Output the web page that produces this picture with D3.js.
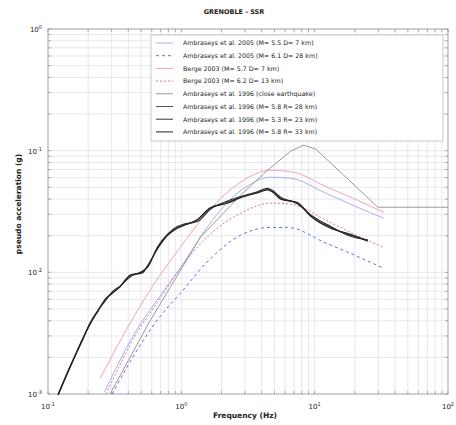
<!DOCTYPE html>
<html>
<head>
<meta charset="utf-8">
<script src="https://cdn.jsdelivr.net/npm/d3@7"></script>
<style>
  body { margin: 0; background: #fff; }
  text { font-family: "DejaVu Sans", Arial, sans-serif; fill: #222; }
</style>
</head>
<body>
<svg id="chart" width="456" height="425"></svg>
<script>
// values (Hz, g)
const title = 'GRENOBLE - SSR';

const amb05aF = [0.264, 0.45, 0.7, 0.98, 1.5, 2.22, 3.2, 4.67, 6.6, 12, 20, 33];
const amb05aA = [0.00103, 0.0032, 0.0065, 0.0108, 0.022, 0.0377, 0.052, 0.0605, 0.0594, 0.045, 0.035, 0.0278];

const amb05bF = [0.303, 0.5, 0.7, 0.98, 1.6, 2.78, 4.67, 6.27, 12, 20, 33];
const amb05bA = [0.001, 0.0026, 0.0044, 0.0067, 0.0125, 0.0202, 0.0234, 0.0234, 0.0175, 0.0138, 0.0108];

const ber03aF = [0.246, 0.4, 0.6, 0.98, 1.6, 2.78, 4.67, 6.95, 12, 20, 33];
const ber03aA = [0.00134, 0.0036, 0.0075, 0.016, 0.032, 0.055, 0.069, 0.0665, 0.051, 0.04, 0.0312];

const ber03bF = [0.273, 0.45, 0.7, 0.98, 1.6, 2.78, 4.67, 6.6, 12, 20, 33];
const ber03bA = [0.001, 0.003, 0.0062, 0.0108, 0.02, 0.0306, 0.037, 0.0364, 0.027, 0.0205, 0.016];

const codeF = [0.292, 0.585, 1.39, 2.78, 4.43, 6.6, 8.26, 10.2, 29.8, 100];
const codeA = [0.001, 0.00403, 0.0194, 0.043, 0.069, 0.099, 0.111, 0.103, 0.0343, 0.0343];

const recF = [0.119, 0.134, 0.154, 0.18, 0.207, 0.238, 0.268, 0.303, 0.347, 0.414, 0.509, 0.565, 0.66, 0.785, 0.933, 1.035, 1.32, 1.65, 2.22, 2.78, 3.72, 4.43, 4.83, 5.55, 7.45, 9.3, 13.2, 18.6, 25];
const rec1A = [0.00099, 0.00134, 0.00189, 0.00275, 0.0038, 0.00487, 0.0059, 0.0068, 0.00767, 0.0094, 0.01, 0.0114, 0.0158, 0.0202, 0.0234, 0.0244, 0.0268, 0.0336, 0.0377, 0.0414, 0.0455, 0.0482, 0.0464, 0.0406, 0.037, 0.0294, 0.0234, 0.0202, 0.0183];
const rec2A = [0.00099, 0.00135, 0.0019, 0.00272, 0.00385, 0.0049, 0.0058, 0.0069, 0.0077, 0.0092, 0.0102, 0.0112, 0.016, 0.0205, 0.0238, 0.0248, 0.0262, 0.033, 0.0385, 0.042, 0.046, 0.049, 0.047, 0.0415, 0.0365, 0.0298, 0.0238, 0.0198, 0.0185];
const rec3A = [0.00098, 0.00133, 0.00188, 0.00278, 0.00375, 0.00485, 0.006, 0.0067, 0.0076, 0.0095, 0.0099, 0.0116, 0.0155, 0.02, 0.023, 0.0242, 0.0272, 0.034, 0.037, 0.041, 0.045, 0.0475, 0.0458, 0.04, 0.0375, 0.029, 0.023, 0.0205, 0.018];

const series = [
  { name: 'Ambraseys et al. 2005 (M= 5.5 D= 7 km)', f: amb05aF, a: amb05aA, color: '#a9b0f0', dash: null, w: 1 },
  { name: 'Ambraseys et al. 2005 (M= 6.1 D= 28 km)', f: amb05bF, a: amb05bA, color: '#5c6fe6', dash: '3,3', w: 1 },
  { name: 'Berge 2003 (M= 5.7 D= 7 km)', f: ber03aF, a: ber03aA, color: '#f2a3b3', dash: null, w: 1 },
  { name: 'Berge 2003 (M= 6.2 D= 13 km)', f: ber03bF, a: ber03bA, color: '#e8768c', dash: '2,2', w: 1 },
  { name: 'Ambraseys et al. 1996 (close earthquake)', f: codeF, a: codeA, color: '#9a9a9a', dash: null, w: 1 },
  { name: 'Ambraseys et al. 1996 (M= 5.8 R= 28 km)', f: recF, a: rec1A, color: '#555', dash: null, w: 1.2 },
  { name: 'Ambraseys et al. 1996 (M= 5.3 R= 23 km)', f: recF, a: rec2A, color: '#333', dash: null, w: 1.2 },
  { name: 'Ambraseys et al. 1996 (M= 5.8 R= 33 km)', f: recF, a: rec3A, color: '#222', dash: null, w: 1.2 }
];

const xTicks = [0.1, 1, 10, 100];
const yTicks = [0.001, 0.01, 0.1, 1];

const svg = d3.select('#chart');
const margin = { top: 29, right: 8, bottom: 31, left: 48 };
const W = 456, H = 425;

const x = d3.scaleLog().domain([0.1, 100]).range([margin.left, W - margin.right]);
const y = d3.scaleLog().domain([0.001, 1]).range([H - margin.bottom, margin.top]);

const minorX = [];
for (let d = -1; d < 2; d++) for (let k = 2; k < 10; k++) minorX.push(k * Math.pow(10, d));
const minorY = [];
for (let d = -3; d < 0; d++) for (let k = 2; k < 10; k++) minorY.push(k * Math.pow(10, d));

// grid
const grid = svg.append('g');
grid.selectAll('.gx').data(minorX.concat(xTicks)).join('line')
  .attr('x1', d => x(d)).attr('x2', d => x(d))
  .attr('y1', y(0.001)).attr('y2', y(1))
  .attr('stroke', '#dfe1ee').attr('stroke-width', 0.8);
grid.selectAll('.gy').data(minorY.concat(yTicks)).join('line')
  .attr('y1', d => y(d)).attr('y2', d => y(d))
  .attr('x1', x(0.1)).attr('x2', x(100))
  .attr('stroke', '#dfe1ee').attr('stroke-width', 0.8);

// small ticks on the box, inside
const tk = svg.append('g').attr('stroke', '#999').attr('stroke-width', 0.8);
minorY.concat(yTicks).forEach(d => {
  tk.append('line').attr('x1', x(0.1)).attr('x2', x(0.1) + 3).attr('y1', y(d)).attr('y2', y(d));
  tk.append('line').attr('x1', x(100)).attr('x2', x(100) - 3).attr('y1', y(d)).attr('y2', y(d));
});
minorX.concat(xTicks).forEach(d => {
  tk.append('line').attr('x1', x(d)).attr('x2', x(d)).attr('y1', y(0.001)).attr('y2', y(0.001) - 3);
  tk.append('line').attr('x1', x(d)).attr('x2', x(d)).attr('y1', y(1)).attr('y2', y(1) + 3);
});

svg.append('rect')
  .attr('x', x(0.1)).attr('y', y(1))
  .attr('width', x(100) - x(0.1)).attr('height', y(0.001) - y(1))
  .attr('fill', 'none').attr('stroke', '#999').attr('stroke-width', 0.8);

// curves
const line = d3.line().x(d => x(d[0])).y(d => y(d[1])).curve(d3.curveMonotoneX);
const lineLin = d3.line().x(d => x(d[0])).y(d => y(d[1]));
series.forEach((s, i) => {
  const pts = s.f.map((f, j) => [f, s.a[j]]);
  svg.append('path')
    .attr('d', (i === 4 ? lineLin : line)(pts))
    .attr('fill', 'none')
    .attr('stroke', s.color)
    .attr('stroke-width', s.w)
    .attr('stroke-dasharray', s.dash);
});

// tick labels
function pow10(g, d, anchor) {
  const e = Math.round(Math.log10(d));
  const t = g.append('text').attr('font-size', 7).attr('text-anchor', anchor);
  t.append('tspan').text('10');
  t.append('tspan').attr('dy', -3).attr('font-size', 5).text(e);
  return t;
}
yTicks.forEach(d => {
  pow10(svg, d, 'end').attr('x', x(0.1) - 6).attr('y', y(d) + 3);
});
xTicks.forEach(d => {
  pow10(svg, d, 'middle').attr('x', x(d)).attr('y', y(0.001) + 15);
});

svg.append('text').attr('x', 245).attr('y', 418).attr('text-anchor', 'middle')
  .attr('font-size', 7.5).attr('font-weight', 'bold').text('Frequency (Hz)');
svg.append('text').attr('transform', 'translate(21,204) rotate(-90)').attr('text-anchor', 'middle')
  .attr('font-size', 7.5).attr('font-weight', 'bold').text('pseudo acceleration (g)');
svg.append('text').attr('x', 234).attr('y', 14).attr('text-anchor', 'middle')
  .attr('font-size', 6.5).attr('font-weight', 'bold').text(title);

// legend
const lg = svg.append('g');
lg.append('rect').attr('x', 151).attr('y', 35).attr('width', 292).attr('height', 106)
  .attr('fill', '#fff').attr('stroke', '#bbb').attr('stroke-width', 0.8);
series.forEach((s, i) => {
  const yy = 43 + i * 12.7;
  lg.append('line').attr('x1', 156).attr('x2', 173).attr('y1', yy).attr('y2', yy)
    .attr('stroke', s.color).attr('stroke-width', 1).attr('stroke-dasharray', s.dash);
  lg.append('text').attr('x', 183).attr('y', yy + 2.3).attr('font-size', 6.3).text(s.name);
});
</script>
</body>
</html>
